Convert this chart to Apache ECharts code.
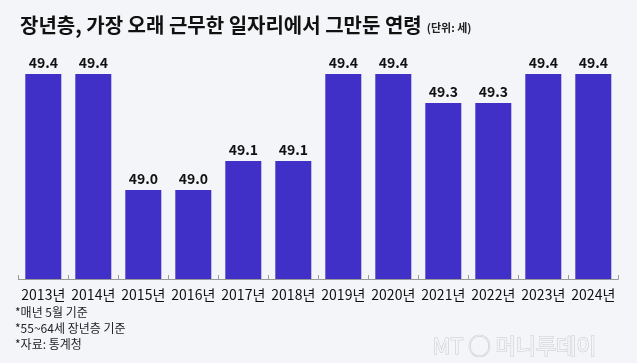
<!DOCTYPE html>
<html><head><meta charset="utf-8">
<script src="https://cdn.jsdelivr.net/npm/echarts@6/dist/echarts.min.js"></script>
<style>html,body{margin:0;padding:0;background:#f4f5f8;}#c{width:637px;height:363px;}</style>
</head><body><div id="c"></div>
<script>
var categories = ['2013년','2014년','2015년','2016년','2017년','2018년','2019년','2020년','2021년','2022년','2023년','2024년'];
var values = [49.4,49.4,49.0,49.0,49.1,49.1,49.4,49.4,49.3,49.3,49.4,49.4];
var titleText = '장년층, 가장 오래 근무한 일자리에서 그만둔 연령';
var unitText = '(단위: 세)';
var notes = ['*매년 5월 기준','*55~64세 장년층 기준','*자료: 통계청'];
var FONT = "'Noto Sans CJK KR', sans-serif";
var chart = echarts.init(document.getElementById('c'), null, {renderer:'canvas'});
chart.setOption({
  backgroundColor:'#f4f5f8',
  animation:false,
  title:{
    left:15, top:10,
    text:'{a|'+titleText+'} {b|'+unitText+'}',
    textStyle:{
      rich:{
        a:{fontFamily:FONT,fontSize:20,fontWeight:'bold',color:'#111'},
        b:{fontFamily:FONT,fontSize:11,color:'#222',padding:[6,0,0,0]}
      }
    }
  },
  grid:{left:18.3,width:600,top:50,height:229},
  xAxis:{
    type:'category',data:categories,
    axisLine:{show:true,onZero:false,lineStyle:{color:'#9a9a9a',width:1}},
    axisTick:{show:true,inside:true,length:4,lineStyle:{color:'#9a9a9a'}},
    axisLabel:{interval:0,fontFamily:FONT,fontSize:14,color:'#111',margin:9}
  },
  yAxis:{type:'value',min:48.693,max:49.483,show:false,splitLine:{show:false}},
  series:[{
    type:'bar',data:values,barWidth:36,
    itemStyle:{color:'#4030c8'},
    label:{show:true,position:'top',distance:4,fontFamily:FONT,fontSize:14,fontWeight:'bold',color:'#111',
      formatter:function(p){return p.value.toFixed(1);}}
  }],
  graphic:[
    {type:'text',left:15,top:306,style:{text:notes[0],font:'12px '+FONT,fill:'#222'}},
    {type:'text',left:15,top:322,style:{text:notes[1],font:'12px '+FONT,fill:'#222'}},
    {type:'text',left:15,top:338,style:{text:notes[2],font:'12px '+FONT,fill:'#222'}},
    {type:'text',left:432,top:334,style:{text:'MT ◯ 머니투데이',font:'22px '+FONT,fill:'#f4f5f8',stroke:'#c8c8cc',lineWidth:1}}
  ]
});
</script></body></html>
